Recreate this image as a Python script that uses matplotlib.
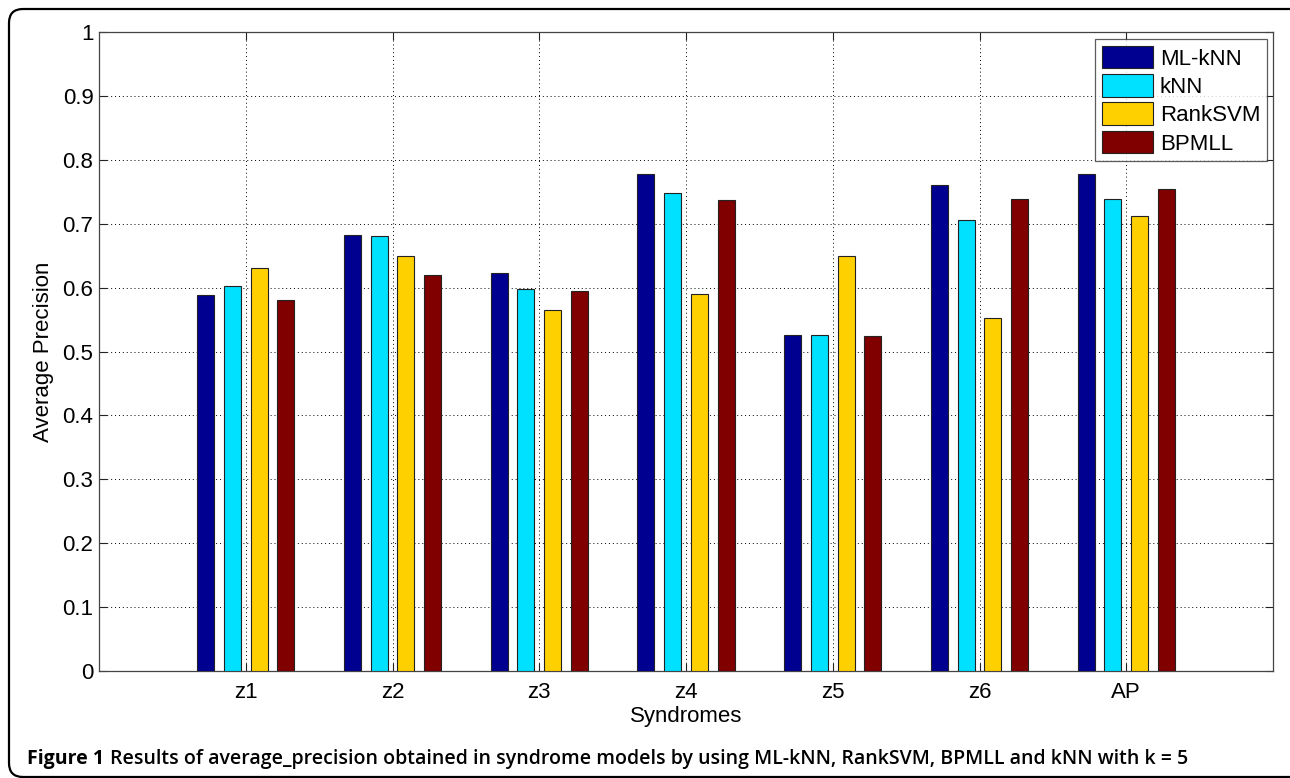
import numpy as np
import matplotlib.pyplot as plt
from matplotlib.patches import FancyBboxPatch

plt.rcParams['font.family'] = ['Liberation Sans', 'DejaVu Sans']

# data
syndromes = ['z1', 'z2', 'z3', 'z4', 'z5', 'z6', 'AP']
methods = ['ML-kNN', 'kNN', 'RankSVM', 'BPMLL']
ml_knn = [0.588, 0.683, 0.623, 0.777, 0.526, 0.760, 0.777]
knn = [0.603, 0.681, 0.598, 0.748, 0.526, 0.706, 0.739]
rank_svm = [0.631, 0.650, 0.565, 0.590, 0.650, 0.552, 0.712]
bpmll = [0.580, 0.619, 0.595, 0.737, 0.524, 0.739, 0.755]
colors = ['#000090', '#00E0FF', '#FFD000', '#800000']

W, H = 1290, 778
fig = plt.figure(figsize=(W / 100, H / 100), dpi=100)
ax = fig.add_axes([99 / W, 1 - 671 / H, (1273 - 99) / W, (671 - 32) / H])

x = np.arange(1, len(syndromes) + 1)
step = 0.182
width = 0.116
for i, (vals, name) in enumerate(zip([ml_knn, knn, rank_svm, bpmll], methods)):
    ax.bar(x + (i - 1.5) * step, vals, width, color=colors[i], edgecolor='#222222',
           linewidth=0.8, label=name, zorder=3)

ax.set_xlim(0, 8)
ax.set_ylim(0, 1)
ax.set_xticks(x)
ax.set_xticklabels(syndromes)
ax.set_yticks(np.arange(0, 1.01, 0.1))
ax.set_yticklabels(['0'] + ['%.1f' % v for v in np.arange(0.1, 0.95, 0.1)] + ['1'])
ax.tick_params(direction='in', length=6, width=0.8, top=True, right=True,
               labelsize=16, colors='#222222', labelcolor='black')
ax.tick_params(axis='y', pad=4)
ax.tick_params(axis='x', pad=8)
ax.grid(True, color='black', linestyle=(0, (1, 3)), linewidth=0.7, zorder=0)
ax.set_axisbelow(True)
for s in ax.spines.values():
    s.set_color('#444444')
    s.set_linewidth(0.9)

ax.set_xlabel('Syndromes', fontsize=16, labelpad=2)
ax.set_ylabel('Average Precision', fontsize=16, labelpad=6)

leg = ax.legend(loc='upper right', bbox_to_anchor=(1168 / 1174, 1 - 7 / 639), fontsize=16,
                frameon=True, fancybox=False, handlelength=2.3, handleheight=1.2,
                handletextpad=0.3, labelspacing=0.2, borderpad=0.3, borderaxespad=0)
leg.get_frame().set_edgecolor('#333333')
leg.get_frame().set_linewidth(0.9)

# outer rounded frame of the figure panel
frame = FancyBboxPatch((9, 1), 1320, 768, boxstyle='round,pad=0,rounding_size=14',
                       transform=None, fill=False, edgecolor='black', linewidth=1.6)
fig.patches.append(frame)

# caption: bold "Figure 1" then the rest, placed right after it
cap_y = 1 - 764 / H
t1 = fig.text(27 / W, cap_y, 'Figure 1', fontsize=14, fontweight='bold', va='baseline',
              family=['Open Sans', 'DejaVu Sans'])
fig.canvas.draw()
bb = t1.get_window_extent()
t2 = fig.text((bb.x1 + 6) / W, cap_y,
              'Results of average_precision obtained in syndrome models by using ML-kNN, RankSVM, BPMLL and kNN with k = 5',
              fontsize=14, fontweight='semibold', va='baseline',
              family=['Open Sans', 'DejaVu Sans'])

fig.savefig('out.png', dpi=100)
